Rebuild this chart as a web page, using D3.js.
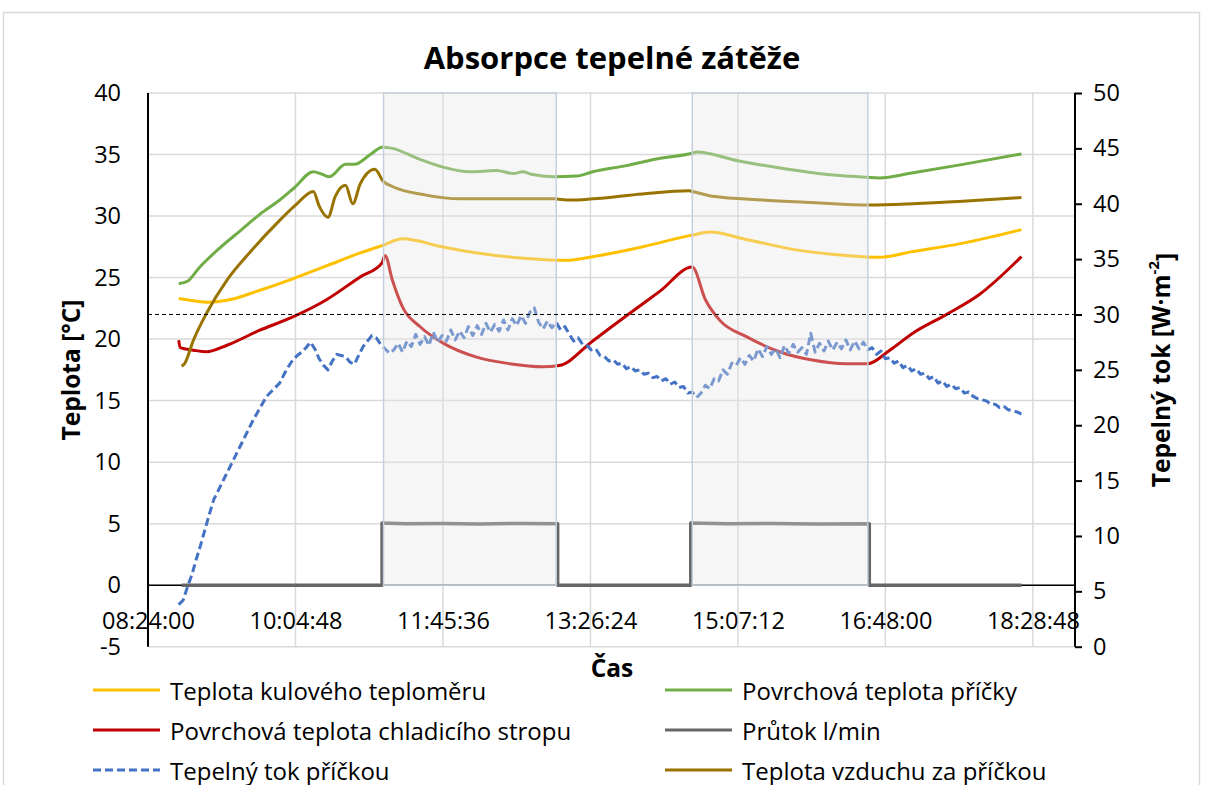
<!DOCTYPE html>
<html>
<head>
<meta charset="utf-8">
<script src="https://cdn.jsdelivr.net/npm/d3@7"></script>
<style>
  body { margin: 0; background: #fff; }
  svg text { font-family: "Open Sans", "Noto Sans", sans-serif; fill: #000; }
</style>
</head>
<body>
<svg id="chart" width="1205" height="785"></svg>
<script>
// ---- Data ----
const xDomain = ["08:24:00", "18:57:36"];
const xTickLabels = ["08:24:00", "10:04:48", "11:45:36", "13:26:24", "15:07:12", "16:48:00", "18:28:48"];
const leftTicks = [-5, 0, 5, 10, 15, 20, 25, 30, 35, 40];
const rightTicks = [0, 5, 10, 15, 20, 25, 30, 35, 40, 45, 50];
const referenceFlux = 30; // W·m-2

// cooling periods (shaded)
const coolingPeriods = [["11:05", "13:03"], ["14:36", "16:36"]];

// Teplota kulového teploměru [°C]
const globeTemp = [
  ["08:45",23.3],["08:56",23.1],["09:06",23.0],["09:18",23.15],["09:40",23.95],["10:03",24.9],
  ["10:26",25.95],["10:49",27.0],["11:04",27.6],["11:18",28.15],["11:45",27.5],["12:09",27.0],
  ["12:43",26.55],["13:10",26.4],["13:28",26.7],["14:02",27.5],["14:36",28.45],["14:48",28.7],
  ["15:13",28.1],["15:47",27.25],["16:21",26.8],["16:44",26.65],["17:06",27.1],["17:41",27.8],["18:21",28.9]
];

// Povrchová teplota příčky [°C]
const wallSurfaceTemp = [
  ["08:45",24.5],["08:51",24.7],["08:59",25.8],["09:13",27.4],["09:27",28.8],["09:40",30.1],
  ["09:54",31.3],["10:04",32.3],["10:17",33.6],["10:23",33.4],["10:28",33.2],["10:39",34.2],
  ["10:45",34.2],["10:56",35.0],["11:04",35.6],["11:11",35.5],["11:30",34.6],["11:45",34.0],
  ["12:04",33.6],["12:22",33.7],["12:34",33.45],["12:40",33.6],["12:46",33.4],["13:01",33.2],
  ["13:17",33.25],["13:28",33.6],["13:51",34.1],["14:14",34.7],["14:36",35.1],["14:39",35.2],
  ["15:07",34.5],["15:36",33.9],["16:10",33.35],["16:35",33.15],["16:44",33.1],["17:06",33.5],
  ["17:41",34.2],["18:21",35.05]
];

// Povrchová teplota chladicího stropu [°C]
const ceilingSurfaceTemp = [
  ["08:45",19.9],["08:46",19.3],["08:55",19.1],["09:04",18.97],["09:18",19.5],["09:40",20.7],
  ["10:03",21.8],["10:26",23.2],["10:49",25.05],["11:04",26.2],["11:06",26.8],["11:11",24.8],
  ["11:18",22.6],["11:30",21.0],["11:46",19.65],["12:08",18.55],["12:31",18.0],["12:54",17.75],
  ["13:05",17.85],["13:28",19.85],["13:51",21.9],["14:14",23.9],["14:36",25.85],["14:45",23.2],
  ["14:55",21.5],["15:13",20.2],["15:36",18.95],["15:58",18.3],["16:21",18.0],["16:36",18.0],
  ["16:51",19.1],["17:07",20.5],["17:29",21.95],["17:52",23.6],["18:21",26.7]
];

// Průtok l/min
const flowRate = [
  ["08:47",0],["11:04",0],["11:04",5.05],["11:20",5.0],["11:45",5.02],["12:10",4.98],["12:40",5.02],
  ["13:04",5.0],["13:04",0],["14:35",0],["14:35",5.05],["15:00",5.0],["15:30",5.02],["16:00",4.98],
  ["16:37",5.0],["16:37",0],["18:21",0]
];

// Tepelný tok příčkou [W·m-2], logged every 3 minutes from 08:45
const fluxStart = "08:45";
const fluxStepMin = 3;
const fluxValues = [
  3.8,4.2,5.4,6.5,7.9,9.2,10.6,12.0,13.3,14.1,14.9,15.7,16.5,17.3,18.1,18.9,19.7,20.5,21.2,21.9,
  22.6,23.0,23.4,23.8,24.6,25.3,25.9,26.3,26.6,27.0,27.5,26.9,26.0,25.4,25.0,25.8,26.4,26.3,26.2,25.7,
  25.5,26.3,27.1,27.6,28.1,27.9,27.3,26.9,26.5,26.8,27.4,26.6,27.6,27.1,28.2,27.3,28.0,27.2,28.4,27.5,
  28.1,27.6,28.6,27.7,28.5,27.9,28.9,28.1,29.0,28.2,29.2,28.4,29.1,28.5,29.5,28.6,29.6,29.0,29.9,29.2,
  30.2,30.6,29.3,28.7,29.4,28.8,29.3,28.6,28.9,28.2,27.6,27.9,27.3,27.2,26.8,26.9,26.3,26.2,25.8,25.9,
  25.5,25.6,25.1,25.3,24.9,25.0,24.6,24.7,24.3,24.4,24.0,24.2,23.7,23.9,23.4,23.5,22.9,23.0,22.5,22.9,
  23.6,23.3,24.2,24.0,25.0,24.6,25.6,25.4,26.1,25.5,26.3,25.8,26.9,26.2,27.1,26.4,26.9,26.1,27.2,26.5,
  27.3,26.6,27.0,26.4,28.3,26.6,27.4,26.7,27.6,26.8,27.5,26.9,27.7,26.8,27.6,26.9,27.5,26.8,27.0,26.4,
  26.7,26.0,26.1,25.6,25.8,25.2,25.4,24.9,25.1,24.6,24.7,24.2,24.4,23.8,24.0,23.5,23.7,23.3,23.4,22.9,
  23.0,22.6,22.4,22.3,22.2,21.9,21.9,21.6,21.7,21.4,21.3,21.2,21.0
];

// Teplota vzduchu za příčkou [°C]
const airBehindWallTemp = [
  ["08:47",17.8],["08:49",18.0],["08:55",19.9],["09:04",22.1],["09:18",24.8],["09:34",27.1],
  ["09:52",29.4],["10:05",30.9],["10:17",32.0],["10:21",30.8],["10:27",29.9],["10:32",31.6],
  ["10:39",32.5],["10:44",31.0],["10:49",32.6],["10:59",33.8],["11:05",32.8],["11:11",32.4],
  ["11:34",31.7],["11:57",31.4],["12:31",31.4],["13:01",31.4],["13:12",31.3],["13:28",31.4],
  ["14:02",31.8],["14:34",32.05],["14:36",32.0],["14:50",31.6],["15:24",31.3],["15:58",31.1],
  ["16:37",30.9],["17:07",31.0],["17:41",31.2],["18:21",31.5]
];

const legendNames = [
  "Teplota kulového teploměru", "Povrchová teplota příčky",
  "Povrchová teplota chladicího stropu", "Průtok l/min",
  "Tepelný tok příčkou", "Teplota vzduchu za příčkou"
];

// ---- Styles ----
const colors = {
  globe: "#FFC000", wall: "#70AD47", ceiling: "#C00000",
  flow: "#666666", flux: "#4472C4", air: "#997300"
};
const legendColors = [colors.globe, colors.wall, colors.ceiling, colors.flow, colors.flux, colors.air];
const legendDashed = [false, false, false, false, true, false];

// ---- Scales ----
const parseHMS = d3.timeParse("%H:%M:%S");
const parseHM = d3.timeParse("%H:%M");
const plot = { left: 148, right: 1075, top: 93, bottom: 646.7 };

const x = d3.scaleTime().domain(xDomain.map(parseHMS)).range([plot.left, plot.right]);
const yL = d3.scaleLinear().domain([-5, 40]).range([plot.bottom, plot.top]);
const yR = d3.scaleLinear().domain([0, 50]).range([plot.bottom, plot.top]);
const numFmt = d => String(d);   // plain hyphen for negatives

const svg = d3.select("#chart");

// chart area border
svg.append("rect")
  .attr("x", 3.5).attr("y", 12.5).attr("width", 1196).attr("height", 800)
  .attr("fill", "#fff").attr("stroke", "#d9d9d9").attr("stroke-width", 1.5);

// title
svg.append("text")
  .attr("x", 612).attr("y", 57)
  .attr("text-anchor", "middle").attr("dominant-baseline", "central")
  .style("font-size", "31px").style("font-weight", "bold")
  .text("Absorpce tepelné zátěže");

// gridlines
const grid = svg.append("g");
grid.selectAll("line.h").data(leftTicks).join("line")
  .attr("x1", plot.left).attr("x2", plot.right)
  .attr("y1", d => yL(d)).attr("y2", d => yL(d))
  .attr("stroke", "#d9d9d9").attr("stroke-width", 1.5);
grid.selectAll("line.v").data(xTickLabels.slice(1)).join("line")
  .attr("x1", d => x(parseHMS(d))).attr("x2", d => x(parseHMS(d)))
  .attr("y1", plot.top).attr("y2", plot.bottom)
  .attr("stroke", "#d9d9d9").attr("stroke-width", 1.5);

// horizontal axis line at 0 °C
svg.append("line")
  .attr("x1", plot.left).attr("x2", plot.right)
  .attr("y1", yL(0)).attr("y2", yL(0))
  .attr("stroke", "#000").attr("stroke-width", 1.5);

// series
const toPts = arr => arr.map(([t, v]) => ({ t: parseHM(t), v }));
const lineL = curve => d3.line().x(d => x(d.t)).y(d => yL(d.v)).curve(curve);
const lineR = curve => d3.line().x(d => x(d.t)).y(d => yR(d.v)).curve(curve);

const series = svg.append("g").attr("fill", "none").attr("stroke-linejoin", "round");

series.append("path").datum(toPts(globeTemp))
  .attr("d", lineL(d3.curveMonotoneX)).attr("stroke", colors.globe).attr("stroke-width", 3);
series.append("path").datum(toPts(wallSurfaceTemp))
  .attr("d", lineL(d3.curveMonotoneX)).attr("stroke", colors.wall).attr("stroke-width", 3);
series.append("path").datum(toPts(ceilingSurfaceTemp))
  .attr("d", lineL(d3.curveMonotoneX)).attr("stroke", colors.ceiling).attr("stroke-width", 3);
series.append("path").datum(toPts(flowRate))
  .attr("d", lineL(d3.curveLinear)).attr("stroke", colors.flow).attr("stroke-width", 3.5);
series.append("path").datum(toPts(airBehindWallTemp))
  .attr("d", lineL(d3.curveMonotoneX)).attr("stroke", colors.air).attr("stroke-width", 3);

const fluxT0 = parseHM(fluxStart);
const fluxPts = fluxValues.map((v, i) => ({ t: d3.timeMinute.offset(fluxT0, i * fluxStepMin), v }));
series.append("path").datum(fluxPts)
  .attr("d", lineR(d3.curveLinear)).attr("stroke", colors.flux).attr("stroke-width", 3)
  .attr("stroke-dasharray", "8,4");

// shaded cooling periods
svg.append("g").selectAll("rect").data(coolingPeriods).join("rect")
  .attr("x", d => x(parseHM(d[0])))
  .attr("width", d => x(parseHM(d[1])) - x(parseHM(d[0])))
  .attr("y", yL(40)).attr("height", yL(0) - yL(40))
  .attr("fill", "#e6e6e6").attr("fill-opacity", 0.35)
  .attr("stroke", "#c5d0dc").attr("stroke-width", 1.5);

// reference heat flux line
svg.append("line")
  .attr("x1", plot.left).attr("x2", plot.right)
  .attr("y1", yR(referenceFlux)).attr("y2", yR(referenceFlux))
  .attr("stroke", "#000").attr("stroke-width", 1).attr("stroke-dasharray", "4,3");

// axis lines
svg.append("line").attr("x1", plot.left).attr("x2", plot.left)
  .attr("y1", plot.top).attr("y2", plot.bottom).attr("stroke", "#000").attr("stroke-width", 2);

// left axis labels
const gL = svg.append("g").attr("transform", `translate(${plot.left},0)`)
  .call(d3.axisLeft(yL).tickValues(leftTicks).tickSize(0).tickPadding(27).tickFormat(numFmt));
gL.select(".domain").remove();

// right axis
const gR = svg.append("g").attr("transform", `translate(${plot.right},0)`)
  .call(d3.axisRight(yR).tickValues(rightTicks).tickSize(7).tickPadding(11).tickFormat(numFmt));
gR.select(".domain").attr("stroke", "#000").attr("stroke-width", 2).attr("d", `M0,${plot.top}H0V${plot.bottom}`);
gR.selectAll(".tick line").attr("stroke", "#000").attr("stroke-width", 2);

// x axis labels (crossing at 0 °C)
const gX = svg.append("g").attr("transform", `translate(0,${yL(0)})`)
  .call(d3.axisBottom(x).tickValues(xTickLabels.map(parseHMS)).tickSize(0).tickPadding(27)
    .tickFormat(d3.timeFormat("%H:%M:%S")));
gX.select(".domain").remove();

svg.selectAll(".tick text").style("font-size", "23.5px").attr("fill", "#000")
  .style("font-family", '"Open Sans", sans-serif');

// axis titles
svg.append("text")
  .attr("transform", "translate(70,370) rotate(-90)")
  .attr("text-anchor", "middle").attr("dominant-baseline", "central")
  .style("font-size", "24.5px").style("font-weight", "bold")
  .text("Teplota [°C]");

const rt = svg.append("text")
  .attr("transform", "translate(1160,370) rotate(-90)")
  .attr("text-anchor", "middle").attr("dominant-baseline", "central")
  .style("font-size", "24.5px").style("font-weight", "bold");
rt.append("tspan").text("Tepelný tok [W·m");
rt.append("tspan").attr("dy", "-0.45em").style("font-size", "15px").text("-2");
rt.append("tspan").attr("dy", "0.45em").text("]");

svg.append("text")
  .attr("x", 612).attr("y", 667)
  .attr("text-anchor", "middle").attr("dominant-baseline", "central")
  .style("font-size", "24.5px").style("font-weight", "bold")
  .text("Čas");

// legend
const legend = svg.append("g");
const legendRows = [690, 730, 770];
const legendCols = [93, 665];
legendNames.forEach((name, i) => {
  const cx = legendCols[i % 2];
  const cy = legendRows[Math.floor(i / 2)];
  legend.append("line")
    .attr("x1", cx).attr("x2", cx + 67).attr("y1", cy).attr("y2", cy)
    .attr("stroke", legendColors[i]).attr("stroke-width", 3)
    .attr("stroke-dasharray", legendDashed[i] ? "8,4" : null);
  legend.append("text")
    .attr("x", cx + 77).attr("y", cy)
    .attr("dominant-baseline", "central")
    .style("font-size", "24px")
    .text(name);
});
</script>
</body>
</html>
